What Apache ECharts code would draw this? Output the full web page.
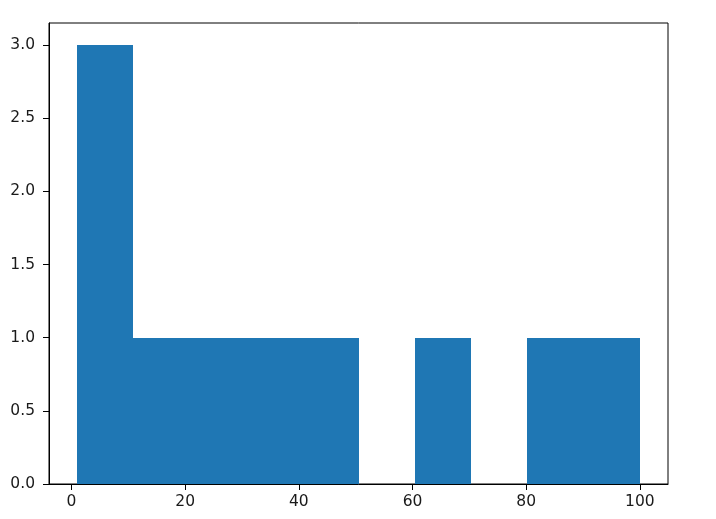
<!DOCTYPE html>
<html>
<head>
<meta charset="utf-8">
<script src="https://cdn.jsdelivr.net/npm/echarts@6/dist/echarts.min.js"></script>
<style>
  html, body { margin: 0; padding: 0; background: #fff; }
  #chart { width: 716px; height: 519px; }
</style>
</head>
<body>
<div id="chart"></div>
<script>
// histogram bins (edges) and counts
const binEdges = [1, 10.9, 20.8, 30.7, 40.6, 50.5, 60.4, 70.3, 80.2, 90.1, 100]
const counts = [3, 1, 1, 1, 1, 0, 1, 0, 1, 1]
const xTicks = [0, 20, 40, 60, 80, 100]
const yTicks = [0, 0.5, 1, 1.5, 2, 2.5, 3]

const bars = counts.map((c, i) => [binEdges[i], binEdges[i + 1], c])

const chart = echarts.init(document.getElementById('chart'))

const labelStyle = {
  color: '#1a1a1a',
  fontSize: 15.5,
  fontFamily: 'DejaVu Sans',
}

chart.setOption({
  animation: false,
  grid: {
    left: 49, right: 48, top: 23, bottom: 35,
    show: true,
    borderColor: '#000',
    borderWidth: 1,
    backgroundColor: 'transparent',
  },
  xAxis: {
    type: 'value',
    min: -3.95,
    max: 104.95,
    splitLine: { show: false },
    axisLine: { show: true, onZero: false, lineStyle: { color: '#000' } },
    axisTick: {
      show: true, length: 6, inside: false,
      customValues: xTicks,
      lineStyle: { color: '#000' },
    },
    axisLabel: {
      ...labelStyle,
      margin: 10,
      customValues: xTicks,
      formatter: v => String(v),
    },
  },
  yAxis: {
    type: 'value',
    min: 0,
    max: 3.15,
    splitLine: { show: false },
    axisLine: { show: true, onZero: false, lineStyle: { color: '#000' } },
    axisTick: {
      show: true, length: 6, inside: false,
      customValues: yTicks,
      lineStyle: { color: '#000' },
    },
    axisLabel: {
      ...labelStyle,
      margin: 14,
      customValues: yTicks,
      formatter: v => v.toFixed(1),
    },
  },
  series: [{
    type: 'custom',
    data: bars,
    encode: { x: [0, 1], y: 2 },
    z: 1,
    renderItem: (params, api) => {
      if (!api.value(2)) return null
      const p0 = api.coord([api.value(0), api.value(2)])
      const p1 = api.coord([api.value(1), 0])
      // snap to whole pixels so neighbouring bins show no seam
      const x0 = Math.round(p0[0]), x1 = Math.round(p1[0])
      const y0 = Math.round(p0[1]), y1 = Math.round(p1[1])
      return {
        type: 'rect',
        shape: { x: x0, y: y0, width: x1 - x0, height: y1 - y0 },
        style: { fill: '#1f77b4' },
      }
    },
  }],
})
</script>
</body>
</html>
